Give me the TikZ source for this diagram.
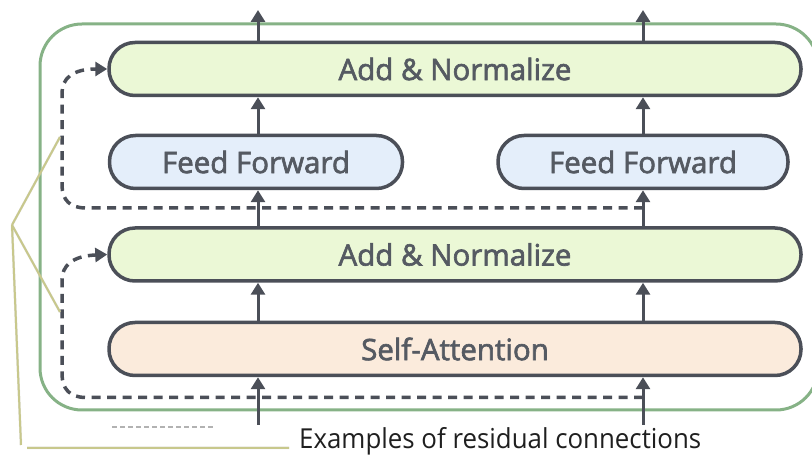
\documentclass[tikz,border=0pt]{standalone}
\usepackage{fontspec}
\setmainfont{Open Sans}
\newfontface\blockfont{Open Sans}[FakeBold=2.2]
\usetikzlibrary{arrows.meta}

\definecolor{edgegray}{HTML}{4B4F58}
\definecolor{textgray}{HTML}{555A62}
\definecolor{frame}{HTML}{86B286}
\definecolor{normfill}{HTML}{EBF8D6}
\definecolor{fffill}{HTML}{E4EEFA}
\definecolor{attfill}{HTML}{FBEBDC}
\definecolor{callout}{HTML}{C8C88C}

\tikzset{
  block/.style={draw=edgegray, line width=3.5pt, rounded corners=26pt,
    minimum height=53pt, inner sep=0pt, text=textgray,
    font=\blockfont\fontsize{29.5}{33}\selectfont},
  flow/.style={draw=edgegray, line width=3pt,
    -{Triangle[width=14pt,length=12pt]}},
  resid/.style={draw=edgegray, line width=3.5pt, dash pattern=on 9pt off 6.5pt,
    -{Triangle[width=14pt,length=12pt]}},
  calloutline/.style={draw=callout, line width=2pt},
  calloutshadow/.style={draw=black!25, line width=2.5pt, opacity=0.45},
}

\begin{document}
\begin{tikzpicture}[x=1pt,y=-1pt]
\useasboundingbox (0,0) rectangle (812,462);
\clip (0,0) rectangle (812,462);

% encoder frame
\draw[frame, line width=3pt, rounded corners=42pt] (40,24) rectangle (818,410);

% blocks
\node[block, fill=normfill, minimum width=692pt] (norm2) at (455,69) {Add \& Normalize};
\node[block, fill=fffill, minimum width=293pt] (ffl) at (256,162) {Feed Forward};
\node[block, fill=fffill, minimum width=290pt] (ffr) at (643,162) {Feed Forward};
\node[block, fill=normfill, minimum width=692pt] (norm1) at (455,254.5) {Add \& Normalize};
\node[block, fill=attfill, minimum width=692pt] (att) at (455,349) {Self-Attention};

% inputs, outputs and branch points
\coordinate (inl) at (258,425);
\coordinate (inr) at (643,425);
\coordinate (outl) at (258,10);
\coordinate (outr) at (643,10);
\coordinate (br1) at (643,397.5);
\coordinate (br2) at (643,208);

% residual connections
\draw[resid] (br1) -- (86,397.5) .. controls (70,397.5) and (62,389) .. (62,374)
  -- (62,280) .. controls (62,266) and (72,256) .. (norm1.west);
\draw[resid] (br2) -- (86,208) .. controls (70,208) and (62,200) .. (62,185)
  -- (62,93) .. controls (62,79) and (72,69) .. (norm2.west);

% main flow
\draw[flow] (inl) -- (att.south -| inl);
\draw[flow] (inr) -- (att.south -| inr);
\draw[flow] (att.north -| inl) -- (norm1.south -| inl);
\draw[flow] (att.north -| inr) -- (norm1.south -| inr);
\draw[flow] (norm1.north -| inl) -- (ffl.south -| inl);
\draw[flow] (norm1.north -| inr) -- (ffr.south);
\draw[flow] (ffl.north -| inl) -- (norm2.south -| inl);
\draw[flow] (ffr.north) -- (norm2.south -| inr);
\draw[flow] (norm2.north -| outl) -- (outl);
\draw[flow] (norm2.north -| outr) -- (outr);

% faint cut-off caption fragment
\draw[black!30, line width=1.5pt, dash pattern=on 5pt off 3pt] (112,427) -- (214,427);

% callout for residual connections
\coordinate (hub) at (12,225);
\coordinate (tipa) at (60,137);
\coordinate (tipb) at (60,312);
\coordinate (foot) at (21,445);
\coordinate (rail) at (27,448);
\node[anchor=west, inner sep=0pt, font=\fontsize{27.5}{30}\selectfont, text=black!88]
  (label) at (299,441) {\scalebox{0.94}[1]{Examples of residual connections}};
\coordinate (railend) at ([xshift=-10pt]label.west |- rail);
\begin{scope}[shift={(1.5,2)}]
  \draw[calloutshadow] (hub) -- (tipa) (hub) -- (tipb) (hub) -- (foot) (rail) -- (railend);
\end{scope}
\draw[calloutline] (hub) -- (tipa) (hub) -- (tipb) (hub) -- (foot) (rail) -- (railend);
\end{tikzpicture}
\end{document}
